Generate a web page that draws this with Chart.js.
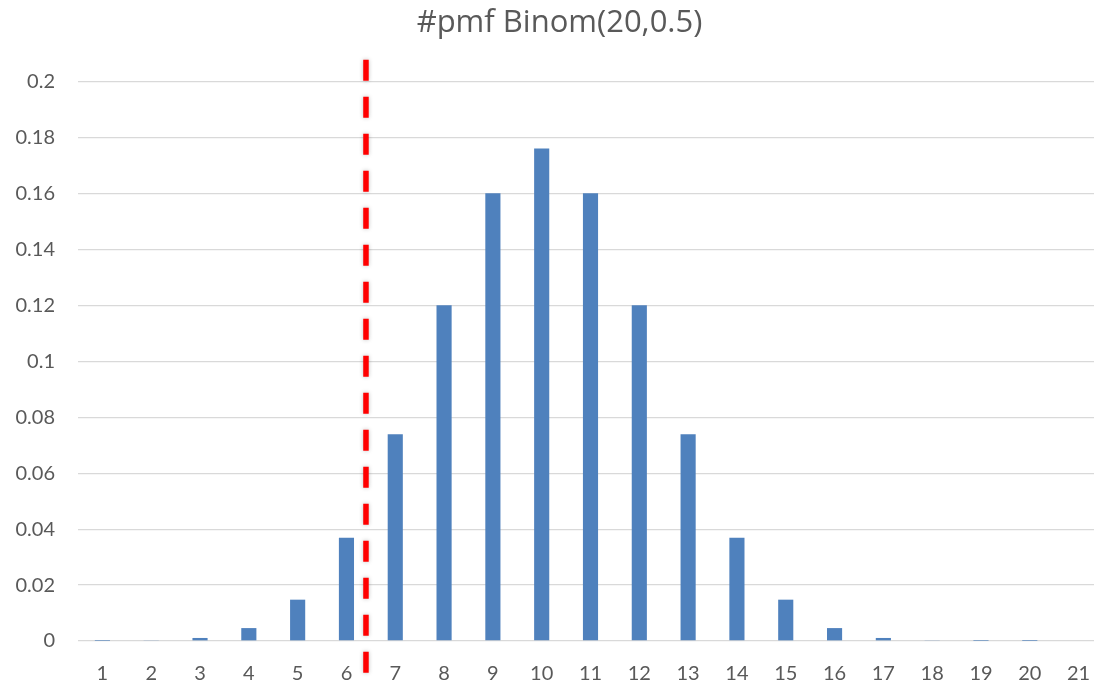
<!DOCTYPE html>
<html>
<head>
<meta charset="utf-8">
<script src="https://cdn.jsdelivr.net/npm/chart.js@4"></script>
<style>
  html, body { margin: 0; padding: 0; background: #fff; overflow: hidden; }
  #wrap { width: 1110px; height: 682px; }
</style>
</head>
<body>
<div id="wrap"><canvas id="pmfChart"></canvas></div>
<script>
// Binomial(20, 0.5) probabilities for k = 1..21
const labels = ['1', '2', '3', '4', '5', '6', '7', '8', '9', '10', '11', '12', '13', '14', '15', '16', '17', '18', '19', '20', '21'];
const pmf = [0.0000191, 0.000181, 0.001087, 0.004621, 0.014786, 0.036964, 0.073929, 0.120134, 0.160179, 0.176197,
             0.160179, 0.120134, 0.073929, 0.036964, 0.014786, 0.004621, 0.001087, 0.000181, 0.0000191, 0.00000095, 0];
const yTicks = [0, 0.02, 0.04, 0.06, 0.08, 0.1, 0.12, 0.14, 0.16, 0.18, 0.2];

// cutoff marker: category position (index units) and top of the line in y units
const cutoffIndex = 5.4;
const cutoffTop = 0.208;

const grey = '#595959';

// red dashed cutoff line, placed through the chart scales
const cutoffLine = {
    id: 'cutoffLine',
    afterDatasetsDraw(chart) {
        const { ctx, scales: { x, y } } = chart;
        const px = x.getPixelForValue(cutoffIndex);
        ctx.save();
        ctx.strokeStyle = '#ff0000';
        ctx.lineWidth = 5.5;
        ctx.setLineDash([21, 16]);
        ctx.shadowColor = 'rgba(0,0,0,0.25)';
        ctx.shadowBlur = 4;
        ctx.beginPath();
        ctx.moveTo(px, y.getPixelForValue(cutoffTop));
        ctx.lineTo(px, chart.height);
        ctx.stroke();
        ctx.restore();
    }
};

new Chart(document.getElementById('pmfChart'), {
    type: 'bar',
    data: {
        labels: labels,
        datasets: [{
            data: pmf,
            backgroundColor: '#4f81bd',
            categoryPercentage: 1,
            barPercentage: 0.31
        }]
    },
    plugins: [cutoffLine],
    options: {
        responsive: true,
        maintainAspectRatio: false,
        animation: false,
        layout: { padding: { left: 16, right: 7, top: 0, bottom: 0 } },
        plugins: {
            legend: { display: false },
            tooltip: { enabled: false },
            title: {
                display: true,
                text: '#pmf Binom(20,0.5)',
                color: grey,
                font: { family: 'Open Sans', size: 31, weight: 'normal', lineHeight: 1.2 },
                padding: { top: 5, bottom: 39.8 }
            }
        },
        scales: {
            x: {
                grid: { display: false },
                border: { display: false },
                ticks: {
                    color: grey,
                    font: { family: 'Lato', size: 20 },
                    autoSkip: false,
                    maxRotation: 0,
                    padding: 13
                },
                afterFit(scale) { scale.height = 41; }
            },
            y: {
                min: 0,
                max: 0.2,
                afterBuildTicks(scale) { scale.ticks = yTicks.map(v => ({ value: v })); },
                grid: { color: '#d9d9d9', lineWidth: 1.3, drawTicks: false },
                border: { display: false },
                ticks: {
                    color: grey,
                    font: { family: 'Lato', size: 20 },
                    padding: 23,
                    callback: v => String(parseFloat(v.toFixed(2)))
                },
                afterFit(scale) { scale.width = 62; }
            }
        }
    }
});
</script>
</body>
</html>
